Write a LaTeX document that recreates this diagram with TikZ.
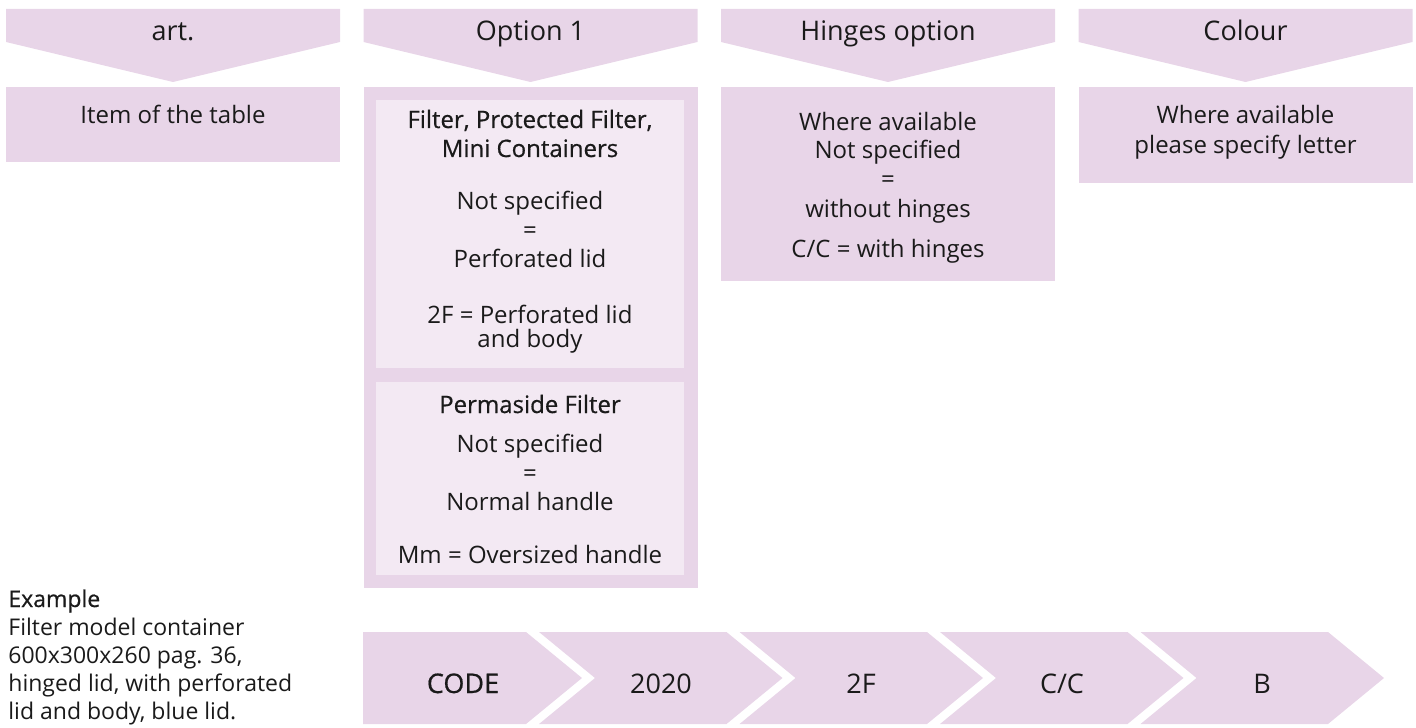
\documentclass[tikz,border=0pt]{standalone}
\usepackage{fontspec}
\setmainfont{Open Sans}
\newfontfamily\medfont[FakeBold=0.6]{Open Sans}
\definecolor{lilac}{HTML}{E8D5E8}
\definecolor{lilaclight}{HTML}{F3E9F3}
\definecolor{ink}{HTML}{1A1A1A}
\begin{document}
\begin{tikzpicture}[x=0.5pt,y=-0.5pt,
  every node/.style={text=ink},
  hdr/.style={anchor=base,inner sep=0pt,font=\fontsize{13.5}{16}\selectfont},
  txt/.style={anchor=base,inner sep=0pt,font=\fontsize{12}{14}\selectfont},
  sub/.style={anchor=base,inner sep=0pt,font=\fontsize{12}{14}\medfont},
  ex/.style={anchor=base west,inner sep=0pt,font=\fontsize{11.5}{13}\selectfont},
  chv/.style={anchor=base,inner sep=0pt,font=\fontsize{13.5}{16}\selectfont}]
\useasboundingbox (0,0) rectangle (1416,727);
% header arrows
\fill[lilac] (6,9) -- (340,9) -- (340,42) -- (173,82) -- (6,42) -- cycle;
\fill[lilac] (363.5,9) -- (697.5,9) -- (697.5,42) -- (530.5,82) -- (363.5,42) -- cycle;
\fill[lilac] (721,9) -- (1055,9) -- (1055,42) -- (888,82) -- (721,42) -- cycle;
\fill[lilac] (1078.5,9) -- (1412.5,9) -- (1412.5,42) -- (1245.5,82) -- (1078.5,42) -- cycle;
\node[hdr] (h1) at (173,41) {art.};
\node[hdr] (h2) at (530.5,41) {Option 1};
\node[hdr] (h3) at (888,41) {Hinges option};
\node[hdr] (h4) at (1245.5,41) {Colour};
% boxes
\fill[lilac] (6,87) rectangle (340,162);
\fill[lilac] (363.5,87) rectangle (697.5,588);
\fill[lilaclight] (376,100) rectangle (684,368);
\fill[lilaclight] (376,382) rectangle (684,575);
\fill[lilac] (721,87) rectangle (1055,281);
\fill[lilac] (1078.5,87) rectangle (1412.5,183);
% column 1
\node[txt] (a1) at (173,124) {Item of the table};
% column 2
\node[sub] (o1) at (530,128) {Filter, Protected Filter,};
\node[sub] (o2) at (530,157) {Mini Containers};
\node[txt] (o3) at (530,209) {Not specified};
\node[txt] (o4) at (530,238) {=};
\node[txt] (o5) at (530,267) {Perforated lid};
\node[txt] (o6) at (530,323) {2F = Perforated lid};
\node[txt] (o7) at (530,347) {and body};
\node[sub] (o8) at (530,413) {Permaside Filter};
\node[txt] (o9) at (530,452) {Not specified};
\node[txt] (o10) at (530,481) {=};
\node[txt] (o11) at (530,510) {Normal handle};
\node[txt] (o12) at (530,563) {Mm = Oversized handle};
% column 3
\node[txt] (c1) at (888,131) {Where available};
\node[txt] (c2) at (888,159) {Not specified};
\node[txt] (c3) at (888,188) {=};
\node[txt] (c4) at (888,218) {without hinges};
\node[txt] (c5) at (888,257) {C/C = with hinges};
% column 4
\node[txt] (d1) at (1245.5,124) {Where available};
\node[txt] (d2) at (1245.5,154) {please specify letter};
% example
\node[ex,font=\fontsize{11.5}{13}\medfont] (e0) at (8,607) {Example};
\node[ex] (e1) at (8,635) {Filter model container};
\node[ex] (e2) at (8,663) {600x300x260 pag. 36,};
\node[ex] (e3) at (8,691) {hinged lid, with perforated};
\node[ex] (e4) at (8,719) {lid and body, blue lid.};
% chevrons
\fill[lilac] (363,632) -- (526,632) -- (582,678) -- (526,724) -- (363,724) -- cycle;
\fill[lilac] (539,632) -- (726.5,632) -- (782.5,678) -- (726.5,724) -- (539,724) -- (595,678) -- cycle;
\fill[lilac] (739.5,632) -- (927,632) -- (983,678) -- (927,724) -- (739.5,724) -- (795.5,678) -- cycle;
\fill[lilac] (940,632) -- (1127.5,632) -- (1183.5,678) -- (1127.5,724) -- (940,724) -- (996,678) -- cycle;
\fill[lilac] (1140.5,632) -- (1328,632) -- (1384,678) -- (1328,724) -- (1140.5,724) -- (1196.5,678) -- cycle;
\node[chv,font=\fontsize{13.5}{16}\medfont] (k0) at (463,693) {CODE};
\node[chv] (k1) at (661,693) {2020};
\node[chv] (k2) at (861,693) {2F};
\node[chv] (k3) at (1062,693) {C/C};
\node[chv] (k4) at (1262,693) {B};
\end{tikzpicture}
\end{document}
